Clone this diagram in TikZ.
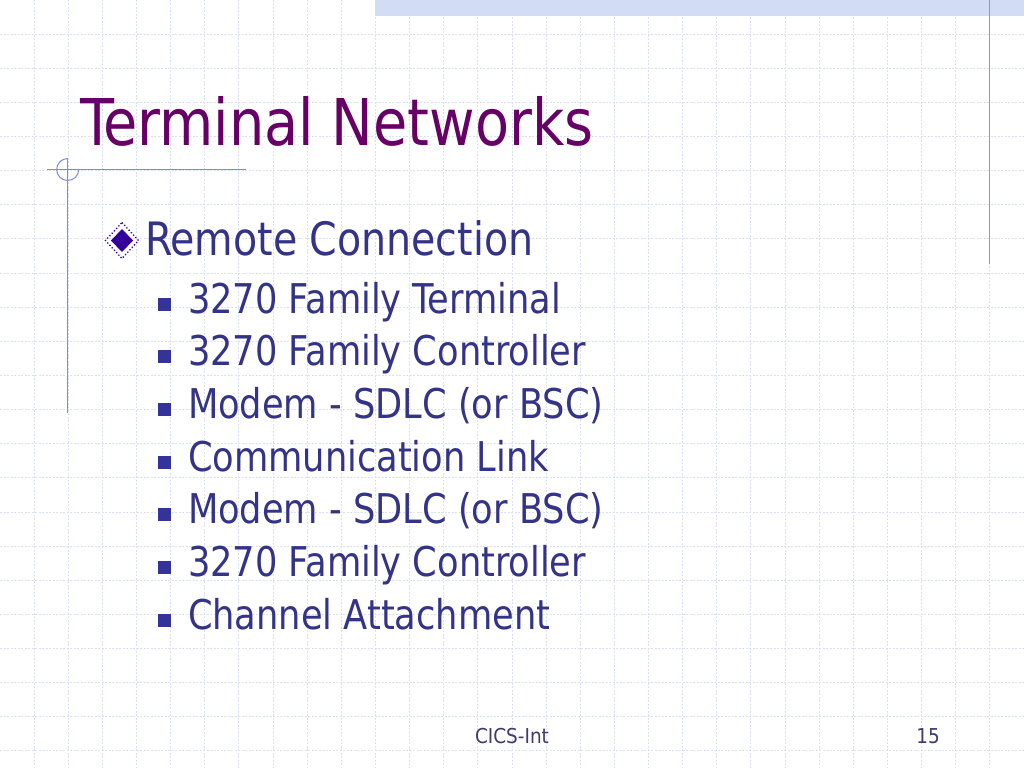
\documentclass[tikz,border=0pt]{standalone}
\usepackage{fontspec}
\setmainfont{DejaVu Sans Condensed}
\definecolor{gridc}{HTML}{DCE0F3}
\definecolor{bandc}{HTML}{D3DCF5}
\definecolor{decoc}{HTML}{7C8AE0}
\definecolor{rightc}{HTML}{8A98DA}
\definecolor{titlec}{HTML}{660066}
\definecolor{bodyc}{HTML}{333388}
\definecolor{bulc}{HTML}{333399}
\definecolor{diac}{HTML}{330099}
\definecolor{footc}{HTML}{3C3C70}
\newcommand{\sqz}[1]{\scalebox{0.955}[1]{#1}}
\tikzset{
  txt/.style={anchor=base west, inner sep=0pt, outer sep=0pt},
  titletext/.style={txt, text=titlec, font=\fontsize{64.5}{64.5}\selectfont},
  lvlone/.style={txt, text=bodyc, font=\fontsize{46}{46}\selectfont},
  lvltwo/.style={txt, text=bodyc, font=\fontsize{41}{41}\selectfont},
  foot/.style={anchor=base, inner sep=0pt, text=footc, font=\fontsize{20.5}{20.5}\selectfont},
  sqbul/.style={fill=bulc, draw=none},
  gridline/.style={draw=gridc, line width=1pt, dash pattern=on 2pt off 1.5pt},
}
\begin{document}
\begin{tikzpicture}[x=1pt,y=-1pt]
\useasboundingbox (0,0) rectangle (1024,768);
\fill[white] (0,0) rectangle (1024,768);
% grid
\foreach \i in {1,...,29} {
  \draw[gridline] ({\i*34.133},0) -- ({\i*34.133},768);
}
\foreach \j in {1,...,22} {
  \draw[gridline] (0,{\j*34.133}) -- (1024,{\j*34.133});
}
% top band
\fill[bandc] (375,0) rectangle (1024,16);
% right vertical line
\draw[rightc, line width=1.4pt] (989.5,0) -- (989.5,264);
% left decoration
\draw[decoc, line width=1pt] (47,169.5) -- (246,169.5);
\draw[decoc, line width=1pt] (67.7,158) -- (67.7,413);
\draw[decoc, line width=1pt] (67.7,158.5) arc[start angle=-90, end angle=-360, radius=11];
% title
\node[titletext] (title) at (80,145) {\scalebox{0.96}[1]{Terminal Networks}};
% diamond bullet
\draw[diac, line width=1.3pt, dotted] (122,222.5) -- (138.5,240.5) -- (122,258.5) -- (105.5,240.5) -- cycle;
\fill[diac] (122,229) -- (133,240.5) -- (122,252) -- (111,240.5) -- cycle;
\node[lvlone] (remote) at (145,255) {\sqz{Remote Connection}};
% sub bullets
\foreach \k/\t/\n in {0/3270 Family Terminal/s1, 1/3270 Family Controller/s2, 2/Modem - SDLC (or BSC)/s3, 3/Communication Link/s4, 4/Modem - SDLC (or BSC)/s5, 5/3270 Family Controller/s6, 6/Channel Attachment/s7} {
  \pgfmathsetmacro{\b}{313+52.7*\k}
  \fill[sqbul] (157.5,\b-15.5) rectangle (170.5,\b-2.5);
  \node[lvltwo] (\n) at (188,\b) {\sqz{\t}};
}
% footer
\node[foot] (footl) at (512,743) {CICS-Int};
\node[foot] (footr) at (928,743) {15};
\end{tikzpicture}
\end{document}
